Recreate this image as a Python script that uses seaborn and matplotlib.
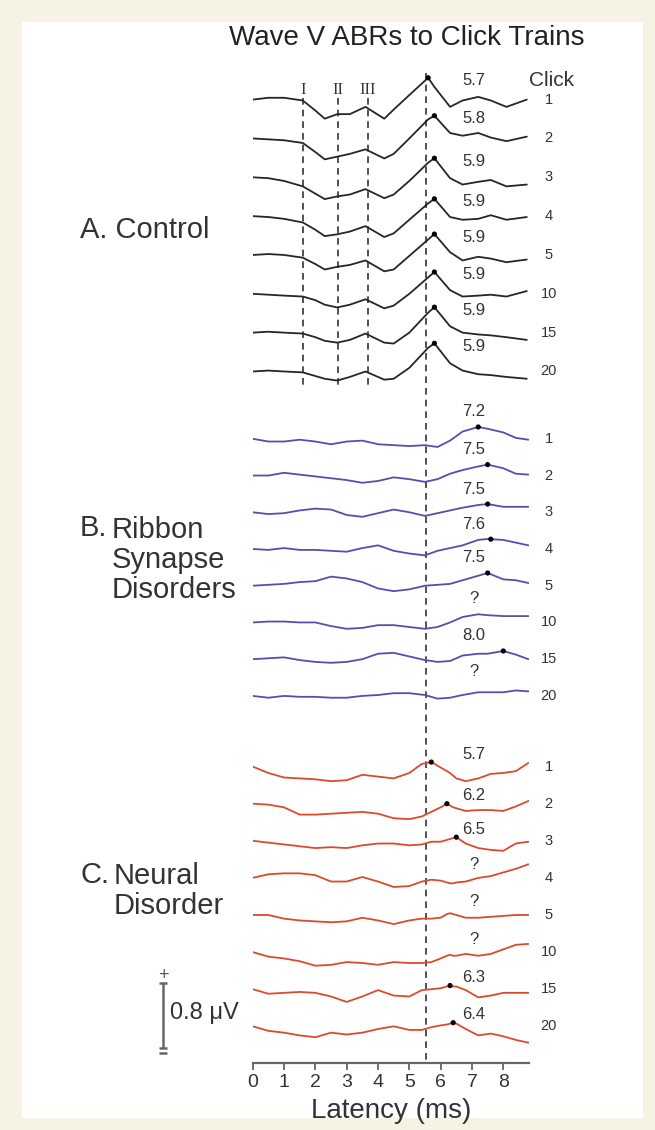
import numpy as np
import pandas as pd
import matplotlib.pyplot as plt
import seaborn as sns

# --- data (latency in ms, amplitude in uV relative to trace start) ---
clicks = ['1', '2', '3', '4', '5', '10', '15', '20']

ctrl_ms = [0, 0.5, 1.0, 1.6, 2.0, 2.3, 2.7, 3.1, 3.6, 4.2, 4.5, 5.0, 5.6, 5.8, 6.3, 6.7, 7.2, 7.6, 8.1, 8.75]
ctrl_1 = [0.0, 0.02, 0.02, -0.01, -0.12, -0.21, -0.16, -0.16, -0.08, -0.21, -0.11, 0.05, 0.24, 0.14, -0.08, -0.01, 0.03, -0.01, -0.08, 0.0]
ctrl_2 = [0.0, -0.01, -0.02, -0.05, -0.15, -0.23, -0.20, -0.17, -0.12, -0.22, -0.17, 0.0, 0.21, 0.25, 0.06, 0.03, 0.06, 0.01, -0.03, 0.02]
ctrl_3 = [0.0, -0.01, -0.04, -0.10, -0.18, -0.24, -0.21, -0.19, -0.13, -0.23, -0.19, -0.04, 0.16, 0.21, -0.01, -0.08, -0.05, -0.03, -0.10, -0.08]
ctrl_4 = [0.0, -0.01, -0.03, -0.07, -0.15, -0.22, -0.20, -0.17, -0.11, -0.23, -0.19, -0.04, 0.14, 0.19, -0.01, -0.04, -0.03, 0.01, -0.04, -0.01]
ctrl_5 = [0.0, 0.01, 0.0, -0.03, -0.10, -0.16, -0.13, -0.11, -0.06, -0.18, -0.16, -0.01, 0.17, 0.23, 0.03, -0.06, -0.02, -0.04, -0.08, -0.05]
ctrl_6 = [0.0, -0.01, -0.02, -0.03, -0.07, -0.12, -0.15, -0.12, -0.06, -0.16, -0.13, 0.0, 0.18, 0.24, 0.04, -0.03, -0.02, -0.01, -0.03, 0.03]
ctrl_7 = [0.0, 0.01, 0.0, -0.01, -0.05, -0.09, -0.11, -0.08, -0.01, -0.11, -0.12, 0.0, 0.22, 0.28, 0.07, 0.0, -0.02, -0.03, -0.05, -0.08]
ctrl_8 = [0.0, 0.01, 0.0, -0.01, -0.05, -0.08, -0.10, -0.06, 0.0, -0.09, -0.08, 0.04, 0.26, 0.31, 0.09, 0.01, -0.03, -0.04, -0.06, -0.08]
ctrl_peak_ms = [5.6, 5.8, 5.8, 5.8, 5.8, 5.8, 5.8, 5.8]
ctrl_latency = ['5.7', '5.8', '5.9', '5.9', '5.9', '5.9', '5.9', '5.9']

rib_ms = [0, 0.5, 1.0, 1.5, 2.0, 2.5, 3.0, 3.5, 4.0, 4.5, 5.0, 5.5, 5.9, 6.3, 6.7, 7.2, 7.5, 8.0, 8.4, 8.8]
rib_1 = [0.0, -0.03, -0.03, -0.01, -0.03, -0.06, -0.03, -0.02, -0.06, -0.07, -0.08, -0.07, -0.09, -0.02, 0.08, 0.13, 0.11, 0.07, 0.01, -0.01]
rib_2 = [0.0, 0.0, 0.03, 0.01, -0.01, -0.03, -0.05, -0.08, -0.06, -0.02, -0.04, -0.07, -0.04, 0.02, 0.06, 0.10, 0.12, 0.08, 0.02, 0.01]
rib_3 = [0.0, -0.02, -0.01, 0.02, 0.04, 0.03, -0.03, -0.05, -0.01, 0.03, 0.0, -0.04, -0.01, 0.02, 0.05, 0.08, 0.09, 0.06, 0.06, 0.06]
rib_4 = [0.0, -0.01, 0.01, -0.01, -0.01, -0.02, -0.03, 0.01, 0.04, -0.02, -0.05, -0.07, -0.02, 0.01, 0.04, 0.10, 0.11, 0.10, 0.07, 0.04]
rib_5 = [0.0, 0.01, 0.02, 0.04, 0.05, 0.10, 0.08, 0.04, -0.03, -0.06, -0.04, 0.0, 0.01, 0.02, 0.06, 0.11, 0.14, 0.07, 0.06, 0.03]
rib_6 = [0.0, 0.01, 0.01, 0.0, 0.0, -0.04, -0.07, -0.06, -0.03, -0.03, -0.05, -0.07, -0.05, 0.0, 0.06, 0.09, 0.08, 0.07, 0.07, 0.07]
rib_7 = [0.0, 0.01, 0.02, -0.01, -0.03, -0.04, -0.03, 0.0, 0.06, 0.07, 0.03, -0.01, -0.03, -0.02, 0.04, 0.06, 0.06, 0.09, 0.05, 0.0]
rib_8 = [0.0, -0.02, 0.0, -0.01, -0.01, -0.02, -0.02, 0.0, 0.01, 0.03, 0.03, 0.01, -0.03, -0.02, 0.01, 0.04, 0.04, 0.04, 0.06, 0.05]
rib_peak_ms = [7.2, 7.5, 7.5, 7.6, 7.5, None, 8.0, None]
rib_latency = ['7.2', '7.5', '7.5', '7.6', '7.5', '?', '8.0', '?']

neur_ms = [0, 0.5, 1.0, 1.5, 2.0, 2.5, 3.0, 3.5, 4.0, 4.5, 5.0, 5.4, 5.7, 6.0, 6.2, 6.3, 6.4, 6.5, 6.8, 7.2, 7.6, 8.0, 8.4, 8.8]
neur_1 = [0.0, -0.07, -0.12, -0.13, -0.14, -0.16, -0.15, -0.09, -0.11, -0.13, -0.07, 0.03, 0.05, -0.01, -0.05, -0.07, -0.10, -0.13, -0.16, -0.13, -0.08, -0.07, -0.05, 0.04]
neur_2 = [0.0, -0.01, -0.04, -0.12, -0.12, -0.11, -0.10, -0.09, -0.11, -0.16, -0.17, -0.14, -0.09, -0.04, 0.0, -0.02, -0.04, -0.05, -0.08, -0.07, -0.07, -0.08, -0.03, 0.03]
neur_3 = [0.0, -0.02, -0.04, -0.06, -0.08, -0.07, -0.08, -0.05, -0.03, -0.03, -0.05, -0.04, -0.01, -0.01, 0.01, 0.02, 0.03, 0.04, -0.03, -0.08, -0.10, -0.11, -0.03, -0.01]
neur_4 = [0.0, 0.04, 0.05, 0.05, 0.03, -0.04, -0.04, 0.01, -0.04, -0.10, -0.09, -0.04, -0.02, -0.03, -0.05, -0.06, -0.06, -0.05, -0.04, 0.0, 0.02, 0.06, 0.10, 0.15]
neur_5 = [0.0, 0.0, -0.04, -0.06, -0.07, -0.08, -0.07, -0.03, -0.06, -0.10, -0.06, -0.04, -0.04, -0.03, 0.01, 0.02, 0.01, 0.0, -0.03, -0.03, -0.02, -0.01, 0.0, 0.0]
neur_6 = [0.0, -0.05, -0.07, -0.10, -0.15, -0.14, -0.11, -0.12, -0.14, -0.11, -0.12, -0.12, -0.11, -0.07, -0.04, -0.03, -0.04, -0.04, -0.02, -0.04, -0.02, 0.03, 0.08, 0.09]
neur_7 = [0.0, -0.05, -0.04, -0.03, -0.04, -0.08, -0.14, -0.08, -0.01, -0.07, -0.08, -0.01, 0.0, 0.01, 0.03, 0.04, 0.03, 0.03, -0.01, -0.09, -0.07, -0.04, -0.04, -0.04]
neur_8 = [0.0, -0.05, -0.07, -0.10, -0.12, -0.07, -0.09, -0.07, -0.03, 0.0, -0.04, -0.04, -0.01, 0.01, 0.02, 0.03, 0.04, 0.03, -0.03, -0.10, -0.08, -0.11, -0.15, -0.18]
neur_peak_ms = [5.7, 6.2, 6.5, None, None, None, 6.3, 6.4]
neur_latency = ['5.7', '6.2', '6.5', '?', '?', '?', '6.3', '6.4']

wave_marks_ms = [1.6, 2.72, 3.68]
wave_names = ['I', 'II', 'III']
ref_line_ms = 5.53

# --- layout (pixels of the 655x1130 figure) ---
W, H = 655, 1130
X0_PX, PX_PER_MS = 252.7, 31.33
AX_BOTTOM_PX, AX_TOP_PX = 1063, 60
UV_PER_PX = 0.011


def ydat(py):
    return (AX_BOTTOM_PX - py) * UV_PER_PX


def xdat(px):
    return (px - X0_PX) / PX_PER_MS


# name, latencies, traces, peaks, labels, first row px, row gap px,
# label lift over peak px, label lift over baseline px (for '?'), colour
groups = [
    ('control', ctrl_ms, [ctrl_1, ctrl_2, ctrl_3, ctrl_4, ctrl_5, ctrl_6, ctrl_7, ctrl_8],
     ctrl_peak_ms, ctrl_latency, 99.6, 38.84, -3, 20, '#262626'),
    ('ribbon', rib_ms, [rib_1, rib_2, rib_3, rib_4, rib_5, rib_6, rib_7, rib_8],
     rib_peak_ms, rib_latency, 438.8, 36.73, 15, 24, '#574db0'),
    ('neural', neur_ms, [neur_1, neur_2, neur_3, neur_4, neur_5, neur_6, neur_7, neur_8],
     neur_peak_ms, neur_latency, 766.6, 37.1, 8, 13, '#dc4a2c'),
]

rows = []
peaks = []
labels = []
for name, ms, traces, pk, lat, top_px, gap_px, lift_pk, lift_base, col in groups:
    for i, tr in enumerate(traces):
        base = ydat(top_px + i * gap_px)
        for t, v in zip(ms, tr):
            rows.append({'group': name, 'trace': f'{name}{i}', 'ms': t, 'y': base + v})
        if pk[i] is not None:
            yp = base + np.interp(pk[i], ms, tr)
            peaks.append({'ms': pk[i], 'y': yp})
            ylab = yp + lift_pk * UV_PER_PX
        else:
            ylab = base + lift_base * UV_PER_PX
        labels.append((i, base, lat[i], ylab))
df = pd.DataFrame(rows)
peak_df = pd.DataFrame(peaks)
palette = {g[0]: g[9] for g in groups}

sns.set_style('white')
plt.rcParams['font.family'] = ['Liberation Sans', 'DejaVu Sans']

fig = plt.figure(figsize=(W / 100, H / 100), dpi=100)
fig.patch.set_facecolor('#f6f2e4')
fig.add_artist(plt.Rectangle((22 / W, 1 - 1118 / H), 621 / W, 1096 / H,
                             transform=fig.transFigure, facecolor='white', edgecolor='none', zorder=0))
ax = fig.add_axes([X0_PX / W, 1 - AX_BOTTOM_PX / H, (529 - X0_PX) / W, (AX_BOTTOM_PX - AX_TOP_PX) / H])
ax.set_facecolor('none')

# dashed reference lines
ax.plot([ref_line_ms, ref_line_ms], [ydat(73), 0], ls=(0, (4, 3)), lw=1.2, color='#333333', zorder=1)
for t, nm in zip(wave_marks_ms, wave_names):
    ax.plot([t, t], [ydat(98), ydat(385)], ls=(0, (4, 3)), lw=1.2, color='#333333', zorder=1)
    ax.text(t, ydat(90), nm, family='Liberation Serif', fontsize=12, ha='center', va='center', color='#333333')

sns.lineplot(data=df, x='ms', y='y', hue='group', units='trace', estimator=None, sort=False,
             palette=palette, legend=False, lw=1.3, ax=ax, zorder=3)
sns.scatterplot(data=peak_df, x='ms', y='y', color='black', s=14, edgecolor='none', ax=ax, zorder=4)

for i, base, lat, ylab in labels:
    ax.text(7.05, ylab, lat, fontsize=12, ha='center', va='center', color='#333333')
    ax.text(9.45, base, clicks[i], fontsize=10.5, ha='center', va='center', color='#333333', clip_on=False)
ax.text(9.55, ydat(80), 'Click', fontsize=15, ha='center', va='center', color='#333333', clip_on=False)

# axes styling
ax.set_xlim(0, 8.82)
ax.set_ylim(0, ydat(AX_TOP_PX))
for s in ['top', 'right', 'left']:
    ax.spines[s].set_visible(False)
ax.spines['bottom'].set_color('#666666')
ax.spines['bottom'].set_linewidth(1.6)
ax.set_xticks(range(9))
ax.set_yticks([])
ax.tick_params(axis='x', direction='out', length=5, width=1.3, color='#666666',
               labelsize=14, labelcolor='#333333', pad=3, bottom=True)
ax.set_xlabel('Latency (ms)', fontsize=20, color='#333333', labelpad=5)
ax.set_ylabel('')

# scale bar
xb = xdat(163)
cap = 4 / PX_PER_MS
kw = dict(color='#666666', lw=1.8, clip_on=False, solid_capstyle='butt')
ax.plot([xb, xb], [ydat(983), ydat(1048)], **kw)
ax.plot([xb - cap, xb + cap], [ydat(983)] * 2, **kw)
ax.plot([xb - cap, xb + cap], [ydat(1048)] * 2, **kw)
ax.plot([xb - cap, xb + cap], [ydat(1053)] * 2, **kw)
ax.text(xb, ydat(975), '+', fontsize=13, ha='center', va='center', color='#555555')
ax.text(xdat(170), ydat(1013), '0.8 \u03bcV', fontsize=17, ha='left', va='center', color='#333333')


# titles and group labels
def ftext(px, py, s, **kw):
    fig.text(px / W, 1 - py / H, s, **kw)


ftext(407, 38, 'Wave V ABRs to Click Trains', fontsize=20, ha='center', va='center', color='#222222')
gl = dict(fontsize=21, va='center', ha='left', color='#333333')
ftext(80, 230, 'A. Control', **gl)
ftext(80, 528, 'B.', **gl)
ftext(112, 560, 'Ribbon\nSynapse\nDisorders', linespacing=1.1, **gl)
ftext(80, 875, 'C.', **gl)
ftext(114, 891, 'Neural\nDisorder', linespacing=1.1, **gl)

fig.savefig('out.png', dpi=100, facecolor=fig.get_facecolor())
